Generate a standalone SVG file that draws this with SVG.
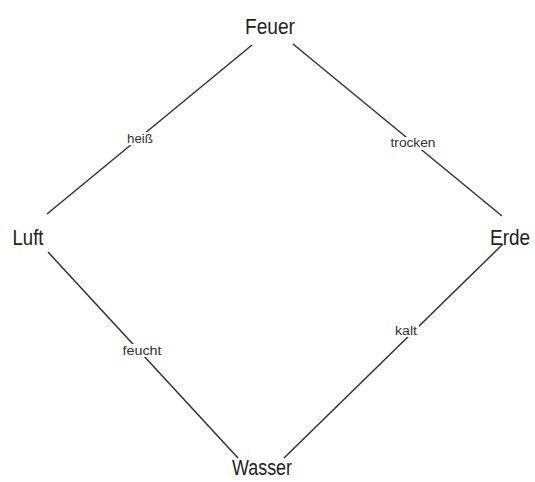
<svg xmlns="http://www.w3.org/2000/svg" width="535" height="482" viewBox="0 0 535 482">
<style>
.node{font-family:"Liberation Sans",Arial,sans-serif;font-size:22px;fill:#222;text-anchor:middle}
.lbl{font-family:"Liberation Sans",Arial,sans-serif;font-size:12px;fill:#333;text-anchor:middle}
.edge{stroke:#333;stroke-width:1.5;fill:none}
.bg{fill:#fff}
</style>
<rect width="535" height="482" fill="#fff"/>
<g id="connectors">
<line class="edge" x1="252" y1="45" x2="47" y2="214"/>
<line class="edge" x1="293" y1="44" x2="502" y2="216"/>
<line class="edge" x1="48" y1="252" x2="238" y2="458"/>
<line class="edge" x1="503" y1="244" x2="284" y2="458"/>
<rect class="bg" x="125" y="132" width="30" height="13"/>
<text class="lbl" x="140" y="143" textLength="26" lengthAdjust="spacingAndGlyphs">heiß</text>
<rect class="bg" x="388" y="137" width="50" height="13"/>
<text class="lbl" x="413" y="147" textLength="45" lengthAdjust="spacingAndGlyphs">trocken</text>
<rect class="bg" x="121" y="344" width="43" height="13"/>
<text class="lbl" x="142" y="355" textLength="39" lengthAdjust="spacingAndGlyphs">feucht</text>
<rect class="bg" x="393" y="324" width="26" height="13"/>
<text class="lbl" x="406" y="335" textLength="22" lengthAdjust="spacingAndGlyphs">kalt</text>
</g>
<g id="feuer"><text class="node" x="270" y="34" textLength="50" lengthAdjust="spacingAndGlyphs">Feuer</text></g>
<g id="luft"><text class="node" x="28" y="245" textLength="31" lengthAdjust="spacingAndGlyphs">Luft</text></g>
<g id="erde"><text class="node" x="510" y="245" textLength="40" lengthAdjust="spacingAndGlyphs">Erde</text></g>
<g id="wasser"><text class="node" x="262" y="475" textLength="60" lengthAdjust="spacingAndGlyphs">Wasser</text></g>
</svg>
